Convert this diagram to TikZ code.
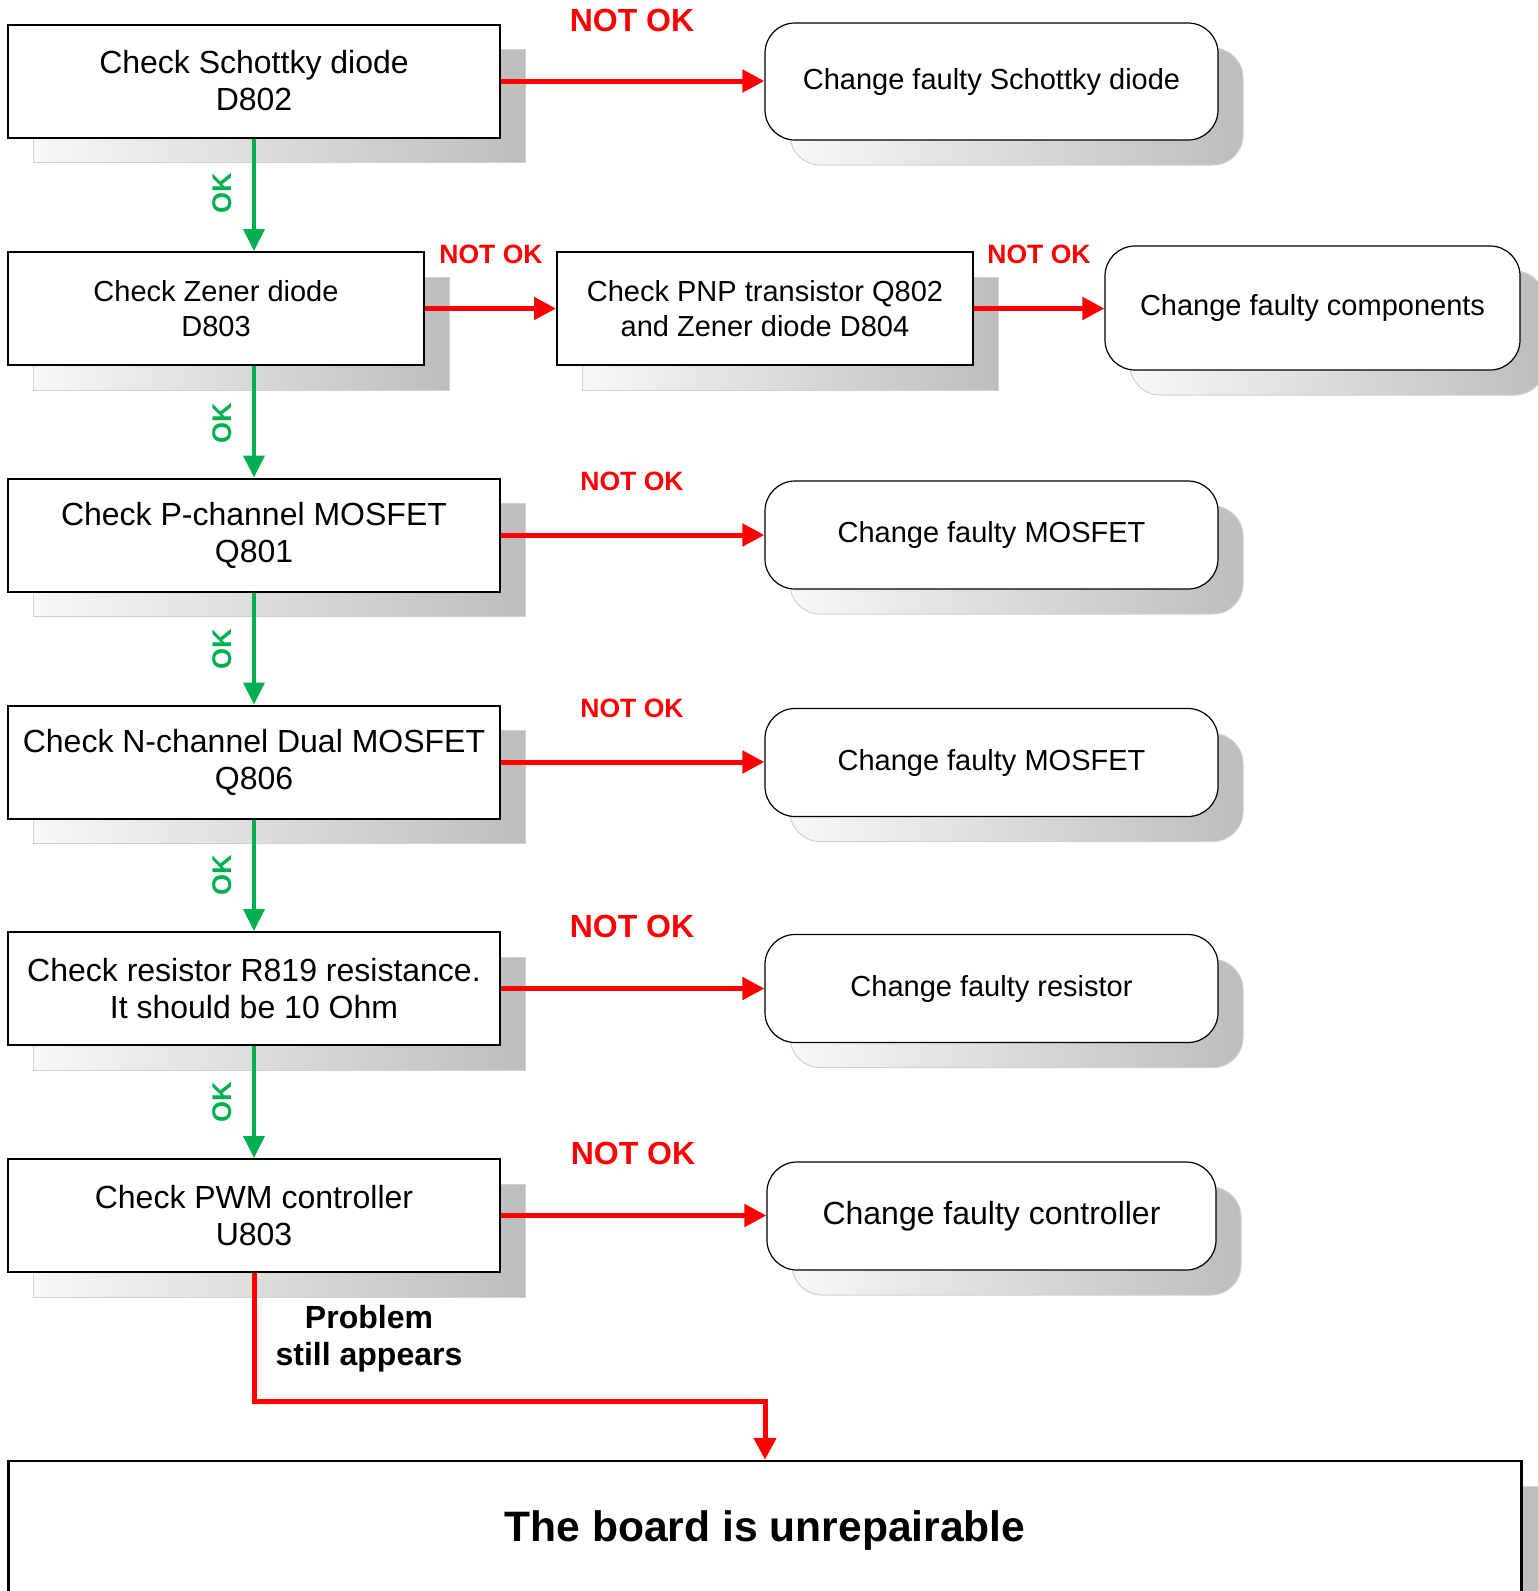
\documentclass[tikz,border=0pt]{standalone}
\usepackage{fontspec}
\setmainfont{Liberation Sans}
\usetikzlibrary{arrows.meta,shadows}
\definecolor{okgreen}{HTML}{00B050}
\definecolor{nokred}{HTML}{FF0000}
\newcommand{\bigf}{\fontsize{32}{37}\selectfont}
\newcommand{\smallf}{\fontsize{29}{35}\selectfont}
\tikzset{
  boxshadow/.style={general shadow={shadow xshift=25pt,shadow yshift=-25pt,
      draw=black!18,line width=1pt,left color=black!3,right color=black!26}},
  checkbox/.style={draw,line width=2pt,fill=white,inner sep=0pt,align=center,
      minimum width=492pt,minimum height=113pt,font=\bigf,boxshadow},
  changebox/.style={draw,line width=1.2pt,fill=white,inner sep=0pt,align=center,
      rounded corners=30pt,minimum width=453pt,minimum height=108pt,font=\smallf,boxshadow},
  okarrow/.style={draw=okgreen,line width=4pt,-{Triangle[length=22pt,width=21pt]}},
  nokarrow/.style={draw=nokred,line width=5pt,-{Triangle[length=22pt,width=22pt]}},
  oklabel/.style={text=okgreen,font=\fontsize{27}{30}\selectfont\bfseries,rotate=90},
  noklabel/.style={text=nokred,font=\fontsize{26.5}{30}\selectfont\bfseries},
  nokbig/.style={text=nokred,font=\bigf\bfseries}
}
\begin{document}
\begin{tikzpicture}[x=1pt,y=-1pt]
\useasboundingbox (0,0) rectangle (1538,1591);
\clip (0,0) rectangle (1538,1591);
% checks
\node[checkbox] (sch) at (254,81) {Check Schottky diode\\D802};
\node[checkbox,minimum width=416pt,font=\smallf] (zen) at (216,308.5) {Check Zener diode\\D803};
\node[checkbox,minimum width=416pt,font=\smallf] (pnp) at (765,308.5) {Check PNP transistor Q802\\and Zener diode D804};
\node[checkbox] (pch) at (254,535) {Check P-channel MOSFET\\Q801};
\node[checkbox] (nch) at (254,762) {Check N-channel Dual MOSFET\\Q806};
\node[checkbox] (res) at (254,988.5) {Check resistor R819 resistance.\\It should be 10 Ohm};
\node[checkbox] (pwm) at (254,1215.5) {Check PWM controller\\U803};
% repairs
\node[changebox,minimum height=117pt] (chs) at (991.5,81.5) {Change faulty Schottky diode};
\node[changebox,minimum width=415pt,minimum height=124pt] (chc) at (1312.5,308) {Change faulty components};
\node[changebox] (chm) at (991.5,535) {Change faulty MOSFET};
\node[changebox] (chn) at (991.5,762.5) {Change faulty MOSFET};
\node[changebox] (chr) at (991.5,988.5) {Change faulty resistor};
\node[changebox,minimum width=449pt,font=\bigf] (chp) at (991.5,1216) {Change faulty controller};
\node[checkbox,line width=2.5pt,minimum width=1513pt,minimum height=139pt,
      font=\fontsize{42.6}{48}\selectfont\bfseries] (board) at (765,1530.5) {The board is unrepairable};
% OK path
\draw[okarrow] (sch.south) -- (sch.south |- zen.north);
\draw[okarrow] (zen.south -| pch.north) -- (pch.north);
\draw[okarrow] (pch.south) -- (nch.north);
\draw[okarrow] (nch.south) -- (res.north);
\draw[okarrow] (res.south) -- (pwm.north);
\foreach \y in {193,423,649,875,1102}
  \node[oklabel] at (222,\y) {OK};
% NOT OK path
\draw[nokarrow] (sch.east) -- (sch.east -| chs.west);
\draw[nokarrow] (zen.east) -- (pnp.west);
\draw[nokarrow] (pnp.east) -- (pnp.east -| chc.west);
\draw[nokarrow] (pch.east) -- (pch.east -| chm.west);
\draw[nokarrow] (nch.east) -- (nch.east -| chn.west);
\draw[nokarrow] (res.east) -- (res.east -| chr.west);
\draw[nokarrow] (pwm.east) -- (pwm.east -| chp.west);
\draw[nokarrow] (pwm.south) -- ++(0,128) -| (board.north);
\node[nokbig] (n1) at (632,20) {NOT OK};
\node[noklabel] (n2) at (491,254) {NOT OK};
\node[noklabel] (n3) at (1039,254) {NOT OK};
\node[noklabel] (n4) at (632,481) {NOT OK};
\node[noklabel] (n5) at (632,708) {NOT OK};
\node[nokbig] (n6) at (632,926) {NOT OK};
\node[nokbig] (n7) at (633,1153) {NOT OK};
\node[font=\bigf\bfseries,align=center] (still) at (369,1338.5) {Problem\\still appears};
\end{tikzpicture}
\end{document}
